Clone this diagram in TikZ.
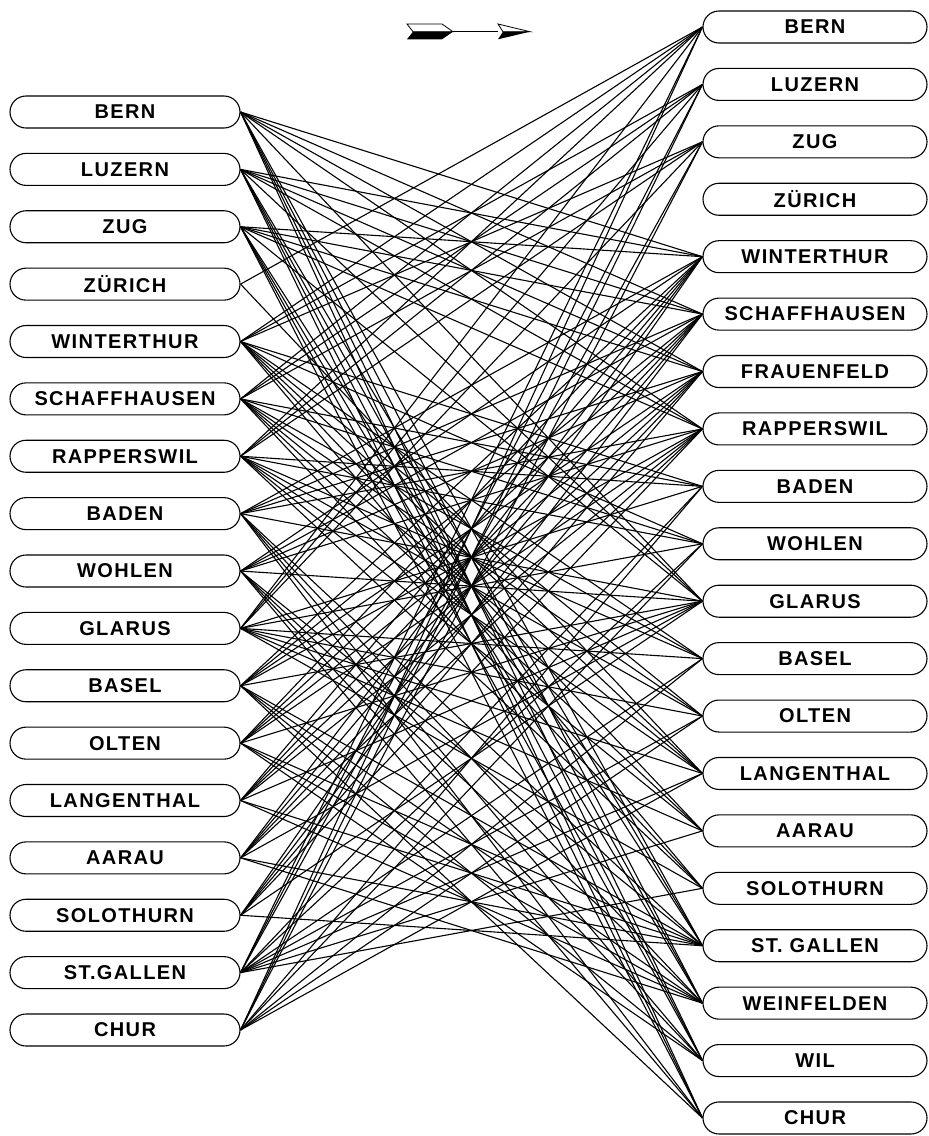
\documentclass[tikz,border=0pt]{standalone}
\usepackage{fontspec}
\newfontfamily\lab{Liberation Sans}[LetterSpace=7]
\usetikzlibrary{shapes.misc}
\begin{document}
\begin{tikzpicture}[x=1pt,y=-1pt,
  city/.style={rounded rectangle, draw, line width=1.1pt, minimum height=32pt, inner sep=0pt,
    font=\lab\bfseries\fontsize{20}{20}\selectfont},
  lcity/.style={city, minimum width=230pt},
  rcity/.style={city, minimum width=224pt},
  link/.style={line width=1.1pt}]
\useasboundingbox (0,0) rectangle (929,1136);
% arrow
\draw[line width=0.8pt] (453,31.7) -- (498,31.7);
\draw[line width=0.8pt] (407,24) -- (442,24) -- (453,31.7) -- (413,31.7) -- cycle;
\fill (413,31.7) -- (453,31.7) -- (442,39.3) -- (407,39.3) -- cycle;
\draw[line width=0.8pt] (498,24) -- (530,31.7) -- (503,31.7) -- cycle;
\fill (503,31.7) -- (530,31.7) -- (498,39.3) -- cycle;
% left cities
\foreach \t [count=\k from 0] in {BERN,LUZERN,ZUG,ZÜRICH,WINTERTHUR,SCHAFFHAUSEN,RAPPERSWIL,BADEN,WOHLEN,GLARUS,BASEL,OLTEN,LANGENTHAL,AARAU,SOLOTHURN,ST.GALLEN,CHUR}
  \node[lcity] (L\k) at (125,112+57.375*\k) {\t};
% right cities
\foreach \t [count=\k from 0] in {BERN,LUZERN,ZUG,ZÜRICH,WINTERTHUR,SCHAFFHAUSEN,FRAUENFELD,RAPPERSWIL,BADEN,WOHLEN,GLARUS,BASEL,OLTEN,LANGENTHAL,AARAU,SOLOTHURN,ST. GALLEN,WEINFELDEN,WIL,CHUR}
  \node[rcity] (R\k) at (815,27+57.42*\k) {\t};
% connections
\foreach \i/\list in {
  0/{4,5,6,7,10,16,17,18,19},
  1/{4,5,6,7,10,16,17,18,19},
  2/{4,5,6,7,10,16,17,18,19},
  3/{0,13},
  4/{0,1,2,8,9,11,12,13,14,15},
  5/{0,1,2,8,9,11,12,13,14,15},
  6/{0,1,2,8,9,11,12,13,14,15},
  7/{4,5,6,7,10,16,17,18,19},
  8/{4,5,6,7,10,16,17,18,19},
  9/{0,1,2,8,9,11,12,13,14,15},
  10/{4,5,6,7,10,16,17,18,19},
  11/{4,5,6,7,10,16,17,18},
  12/{4,5,6,7,10,16,17},
  13/{4,5,6,7,10,16,17},
  14/{4,5,6,7,10,16},
  15/{0,1,2,8,9,11,12,13,14,15},
  16/{0,1,2,8,9,11,12,13}}
  \foreach \j in \list \draw[link] (L\i.east) -- (R\j.west);
\end{tikzpicture}
\end{document}
